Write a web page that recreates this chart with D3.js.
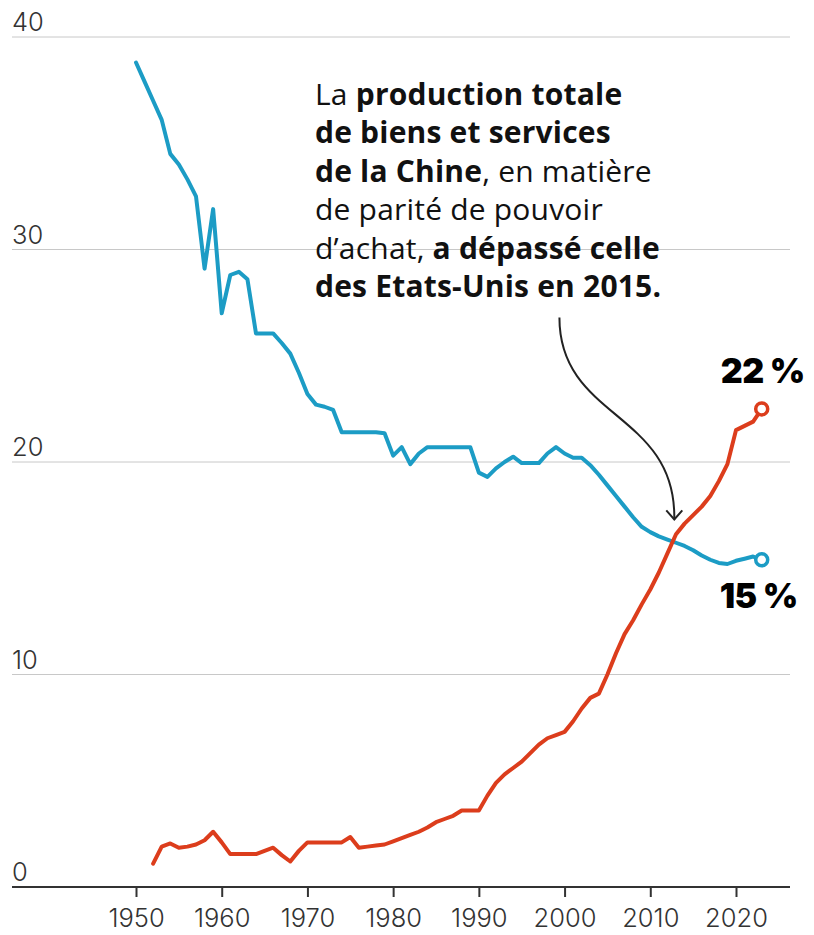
<!DOCTYPE html>
<html>
<head>
<meta charset="utf-8">
<script src="https://cdn.jsdelivr.net/npm/d3@7"></script>
<style>
  body { margin: 0; background: #fff; }
  svg { display: block; }
  .tick-label { font-family: Inter, "Liberation Sans", sans-serif; font-size: 25.5px; font-weight: 300; fill: #333; }
  .note { font-family: "Open Sans", "Liberation Sans", sans-serif; font-size: 30px; fill: #111; letter-spacing: 0.2px; }
  .end-label { font-family: Inter, "Liberation Sans", sans-serif; font-size: 34px; font-weight: 900; fill: #000; letter-spacing: -0.6px; }
</style>
</head>
<body>
<div id="canvas"></div>
<script>
// DATA
const usYears = d3.range(1950, 2024);
const usValues = [
  38.8, 37.9, 37.0, 36.1, 34.5, 34.0, 33.3, 32.5, 29.1, 31.9,
  27.0, 28.8, 28.95, 28.6, 26.05, 26.05, 26.05, 25.6, 25.1, 24.2,
  23.2, 22.7, 22.6, 22.45, 21.4, 21.4, 21.4, 21.4, 21.4, 21.35,
  20.3, 20.7, 19.9, 20.4, 20.7, 20.7, 20.7, 20.7, 20.7, 20.7,
  19.5, 19.3, 19.7, 20.0, 20.25, 19.95, 19.95, 19.95, 20.4, 20.7,
  20.4, 20.2, 20.2, 19.85, 19.4, 18.9, 18.4, 17.9, 17.4, 16.95,
  16.7, 16.5, 16.35, 16.2, 16.05, 15.85, 15.6, 15.4, 15.25, 15.2,
  15.35, 15.45, 15.55, 15.4
];

const chinaYears = d3.range(1952, 2024);
const chinaValues = [
  1.1, 1.9, 2.05, 1.85, 1.9, 2.0, 2.2, 2.6,
  2.1, 1.55, 1.55, 1.55, 1.55, 1.7, 1.85, 1.5, 1.2, 1.7,
  2.1, 2.1, 2.1, 2.1, 2.1, 2.35, 1.85, 1.9, 1.95, 2.0,
  2.15, 2.3, 2.45, 2.6, 2.8, 3.05, 3.2, 3.35, 3.6, 3.6,
  3.6, 4.3, 4.9, 5.3, 5.6, 5.9, 6.3, 6.7, 7.0, 7.15,
  7.3, 7.8, 8.4, 8.9, 9.1, 10.0, 11.0, 11.9, 12.55, 13.3,
  14.0, 14.8, 15.7, 16.6, 17.1, 17.5, 17.9, 18.4, 19.1, 19.9,
  21.5, 21.7, 21.9, 22.5
];

const yTicks = [0, 10, 20, 30, 40];
const xTicks = [1950, 1960, 1970, 1980, 1990, 2000, 2010, 2020];

const noteLines = [
  [["La ", 400], ["production totale", 700]],
  [["de biens et services", 700]],
  [["de la Chine", 700], [", en matière", 400]],
  [["de parité de pouvoir", 400]],
  [["d’achat, ", 400], ["a dépassé celle", 700]],
  [["des Etats-Unis en 2015.", 700]]
];

const usColor = "#1c9cc5";
const chinaColor = "#dc3d1c";

// DIMENSIONS
const width = 814;
const height = 935;
const gridLeft = 12;
const gridRight = 790;

// CANVAS
const svg = d3.select("#canvas")
  .append("svg")
  .attr("width", width)
  .attr("height", height);

// SCALES
const x = d3.scaleLinear().domain([1950, 2020]).range([136, 736]);
const y = d3.scaleLinear().domain([0, 40]).range([887, 37]);

// GRID + Y LABELS
svg.selectAll("line.grid")
  .data(yTicks.filter(d => d > 0))
  .join("line")
  .attr("class", "grid")
  .attr("x1", gridLeft)
  .attr("x2", gridRight)
  .attr("y1", d => y(d))
  .attr("y2", d => y(d))
  .style("stroke", "#c8c8c8")
  .style("stroke-width", 1);

svg.selectAll("text.ylab")
  .data(yTicks)
  .join("text")
  .attr("class", "tick-label ylab")
  .attr("x", gridLeft)
  .attr("y", d => y(d) - 6)
  .text(d => d);

// X AXIS
const xAxis = svg.append("g")
  .attr("transform", `translate(0,${y(0)})`)
  .call(d3.axisBottom(x).tickValues(xTicks).tickFormat(d3.format("d")).tickSize(10).tickPadding(12));

xAxis.attr("font-family", null).attr("font-size", null);
xAxis.select(".domain").remove();
xAxis.selectAll(".tick line").style("stroke", "#333").style("stroke-width", 2);
xAxis.selectAll(".tick text").attr("class", "tick-label").attr("fill", null);

svg.append("line")
  .attr("x1", gridLeft)
  .attr("x2", gridRight)
  .attr("y1", y(0))
  .attr("y2", y(0))
  .style("stroke", "#333")
  .style("stroke-width", 2);

// LINES
const line = d3.line()
  .x(d => x(d[0]))
  .y(d => y(d[1]));

const us = d3.zip(usYears, usValues);
const china = d3.zip(chinaYears, chinaValues);

[[us, usColor], [china, chinaColor]].forEach(([data, color]) => {
  svg.append("path")
    .datum(data)
    .attr("d", line)
    .style("fill", "none")
    .style("stroke", color)
    .style("stroke-width", 4)
    .style("stroke-linejoin", "round")
    .style("stroke-linecap", "round");

  const last = data[data.length - 1];
  svg.append("circle")
    .attr("cx", x(last[0]))
    .attr("cy", y(last[1]))
    .attr("r", 6)
    .style("fill", "#fff")
    .style("stroke", color)
    .style("stroke-width", 3.5);
});

// END LABELS
const usLast = us[us.length - 1];
const chinaLast = china[china.length - 1];

svg.append("text")
  .attr("class", "end-label")
  .attr("x", x(chinaLast[0]) + 1)
  .attr("y", y(chinaLast[1]) - 26)
  .attr("text-anchor", "middle")
  .text("22 %");

svg.append("text")
  .attr("class", "end-label")
  .attr("x", x(usLast[0]) - 3)
  .attr("y", y(usLast[1]) + 48)
  .attr("text-anchor", "middle")
  .text("15 %");

// ANNOTATION
const note = svg.append("text")
  .attr("class", "note");

noteLines.forEach((parts, i) => {
  parts.forEach((p, j) => {
    const t = note.append("tspan")
      .style("font-weight", p[1])
      .text(p[0]);
    if (j === 0) t.attr("x", 315).attr("y", 105 + i * 38.4);
  });
});

// arrow
const start = [x(1999.4), y(26.8)];
const end = [x(2012.8), y(17.3)];
const arrowPath = d3.path();
arrowPath.moveTo(start[0], start[1]);
arrowPath.bezierCurveTo(start[0], start[1] + 102, end[0] + 2, end[1] - 108, end[0], end[1]);

svg.append("path")
  .attr("d", arrowPath.toString())
  .style("fill", "none")
  .style("stroke", "#222")
  .style("stroke-width", 2);

svg.append("path")
  .attr("d", `M${end[0] - 8},${end[1] - 9}L${end[0]},${end[1]}L${end[0] + 8},${end[1] - 9}`)
  .style("fill", "none")
  .style("stroke", "#222")
  .style("stroke-width", 2);
</script>
</body>
</html>
